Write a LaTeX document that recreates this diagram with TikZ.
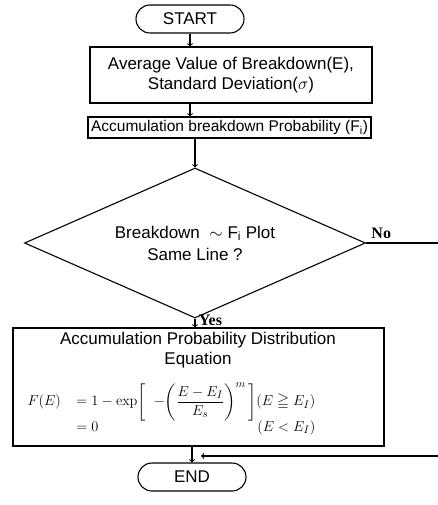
\documentclass[tikz,border=0pt]{standalone}
\usepackage{amsmath}
\usepackage{amssymb}
\usepackage[no-math]{fontspec}
\setmainfont{Liberation Sans}
\newfontfamily\yesnofont{Liberation Serif}
\usepackage{tikz}
\usetikzlibrary{shapes.geometric}

\begin{document}
\begin{tikzpicture}[x=1pt,y=-1pt,line width=1.1pt,
  font=\fontsize{17}{20}\selectfont,
  term/.style={draw,rounded corners=14pt,minimum width=108pt,minimum height=28pt,inner sep=0pt},
  procbox/.style={draw,inner sep=0pt,align=center},
  decide/.style={draw,diamond,aspect=2.27,minimum width=341pt,minimum height=150pt,inner sep=0pt,align=center},
  yesno/.style={font=\yesnofont\bfseries\fontsize{16}{18}\selectfont}]
\useasboundingbox (0,0) rectangle (437,505);
%\draw[step=10, blue!20, thin] (0,0) grid (437,505);

\node[term] (start) at (190,19) {START};
\node[procbox,minimum width=282pt,minimum height=56pt] (avg) at (231,75)
  {Average Value of Breakdown(E),\\Standard Deviation($\sigma$)};
\node[procbox,minimum width=283pt,minimum height=21pt,font=\fontsize{15.5}{18}\selectfont] (acc) at (229.5,127.5)
  {Accumulation breakdown Probability (F\textsubscript{i})};
\node[decide,font=\fontsize{17}{22}\selectfont] (same) at (195,243)
  {Breakdown \ $\sim$ F\textsubscript{i} Plot\\Same Line ?};
\node[procbox,minimum width=371pt,minimum height=118pt] (dist) at (198.5,387) {};
\node[align=center,inner sep=0pt,font=\fontsize{17}{20}\selectfont] (distTitle) at (198,350)
  {Accumulation Probability Distribution\\Equation};
\node[anchor=west,inner sep=0pt,font=\fontsize{15.5}{18}\selectfont] (distEq) at (27,410)
  {$\begin{array}{@{}l@{}l@{}r@{}}
   F(E)\quad & =1-\exp\biggl[\;\;-\biggl(\dfrac{E-E_I}{E_s}\biggr)^{m}\,\biggr] & (E\geqq E_I)\\[-2pt]
   & =0 & (E<E_I)
   \end{array}$};
\node[term] (end) at (192,477) {END};

\draw[->] (start) -- (start |- avg.north);
\draw[->] (start |- avg.south) -- (start |- acc.north);
\draw[->] (same.north |- acc.south) -- (same.north);
\draw[->] (same.south) -- (same.south |- dist.north) node[pos=0.2,right,yesno] {Yes};
\draw[->] (end.north |- dist.south) -- (end.north);

% loop back from No, runs off the right edge
\coordinate (loopR) at (442,456);
\draw[->,shorten >=9pt] (same.east) -| (loopR) node[pos=0.1,above,yesno] {No}
  -- (end.north |- loopR);
\end{tikzpicture}
\end{document}
